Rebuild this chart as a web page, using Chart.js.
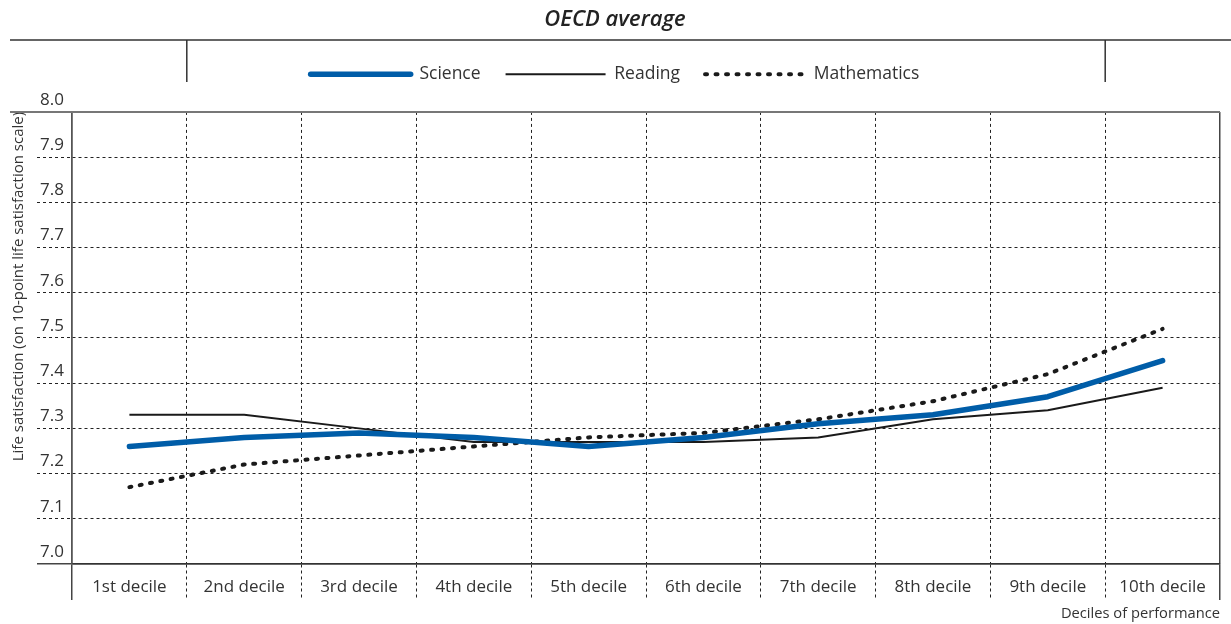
<!DOCTYPE html>
<html>
<head>
<meta charset="utf-8">
<title>OECD average</title>
<script src="https://cdn.jsdelivr.net/npm/chart.js@4.4.1/dist/chart.umd.min.js"></script>
<style>
  html, body { margin: 0; padding: 0; background: #fff; }
</style>
</head>
<body>
<canvas id="graficoDecili" width="1231" height="624"></canvas>
<script>
// dati (scala 0-10 della soddisfazione)
const decili = ['1st decile', '2nd decile', '3rd decile', '4th decile', '5th decile',
  '6th decile', '7th decile', '8th decile', '9th decile', '10th decile'];
const scienze = [7.26, 7.28, 7.29, 7.28, 7.26, 7.28, 7.31, 7.33, 7.37, 7.45];
const lettura = [7.33, 7.33, 7.30, 7.27, 7.27, 7.27, 7.28, 7.32, 7.34, 7.39];
const matematica = [7.17, 7.22, 7.24, 7.26, 7.28, 7.29, 7.32, 7.36, 7.42, 7.52];
const yMin = 7.0;
const yMax = 8.0;
const yStep = 0.1;

const testo = '#333';
const blu = '#005DA8';
const nero = '#1a1a1a';

Chart.defaults.font.family = "'Open Sans', sans-serif";
Chart.defaults.color = testo;

const isBordoY = (ctx) => ctx.tick && (Math.abs(ctx.tick.value - yMin) < 1e-6 || Math.abs(ctx.tick.value - yMax) < 1e-6);
const isBordoX = (ctx) => ctx.index === undefined || ctx.index === 0;

// linee della cornice: riga sotto il titolo, box della legenda, bordo superiore
const cornice = {
  id: 'cornice',
  afterDraw(chart) {
    const { ctx, chartArea, scales } = chart;
    const x = scales.x;
    const sx = chart.options.layout.padding.left;
    const yTitolo = Math.round(chart.titleBlock.bottom);
    const b1 = (x.getPixelForTick(0) + x.getPixelForTick(1)) / 2;
    const b9 = (x.getPixelForTick(8) + x.getPixelForTick(9)) / 2;
    ctx.save();
    ctx.strokeStyle = '#333';
    ctx.lineWidth = 1.5;
    ctx.beginPath();
    ctx.moveTo(sx, yTitolo);
    ctx.lineTo(chart.width, yTitolo);
    ctx.moveTo(b1, yTitolo);
    ctx.lineTo(b1, yTitolo + 42);
    ctx.moveTo(b9, yTitolo);
    ctx.lineTo(b9, yTitolo + 42);
    ctx.stroke();
    ctx.strokeStyle = '#777';
    ctx.lineWidth = 2;
    ctx.beginPath();
    ctx.moveTo(sx, chartArea.top);
    ctx.lineTo(chartArea.right, chartArea.top);
    ctx.stroke();
    ctx.restore();
  }
};

// la legenda con pointStyle perde il tratteggio: lo rimetto dal dataset
function etichetteLegenda(chart) {
  const items = Chart.defaults.plugins.legend.labels.generateLabels(chart);
  items.forEach((item) => {
    const ds = chart.data.datasets[item.datasetIndex];
    item.lineDash = ds.borderDash || [];
    item.lineCap = ds.borderCapStyle || 'butt';
    item.lineWidth = ds.borderWidth;
    item.strokeStyle = ds.borderColor;
  });
  return items;
}

const grafico = new Chart(document.getElementById('graficoDecili'), {
  type: 'line',
  data: {
    labels: decili,
    datasets: [{
      label: 'Science',
      data: scienze,
      xAxisID: 'x',
      borderColor: blu,
      backgroundColor: blu,
      borderWidth: 5.5,
      borderCapStyle: 'round',
      borderJoinStyle: 'round',
      pointRadius: 0,
      tension: 0
    }, {
      label: 'Reading',
      data: lettura,
      xAxisID: 'x',
      borderColor: nero,
      backgroundColor: nero,
      borderWidth: 2,
      pointRadius: 0,
      tension: 0
    }, {
      label: 'Mathematics',
      data: matematica,
      xAxisID: 'x',
      borderColor: nero,
      backgroundColor: nero,
      borderWidth: 4,
      borderDash: [2, 8.5],
      borderCapStyle: 'round',
      pointRadius: 0,
      tension: 0
    }]
  },
  options: {
    responsive: false,
    animation: false,
    layout: { padding: { left: 10, right: 11, top: 0, bottom: 0 } },
    plugins: {
      tooltip: { enabled: false },
      title: {
        display: true,
        text: 'OECD average',
        color: '#222',
        font: { size: 22, style: 'italic', weight: '600' },
        padding: { top: 7, bottom: 7 }
      },
      legend: {
        position: 'top',
        labels: {
          usePointStyle: true,
          pointStyle: 'line',
          pointStyleWidth: 100,
          boxHeight: 17,
          padding: 25,
          color: testo,
          font: { size: 17.5 },
          generateLabels: etichetteLegenda
        }
      }
    },
    scales: {
      x: {
        type: 'category',
        offset: true,
        grid: {
          offset: true,
          color: (ctx) => isBordoX(ctx) ? '#444' : '#222',
          lineWidth: (ctx) => isBordoX(ctx) ? 1.5 : 1,
          tickLength: 36,
          tickBorderDash: (ctx) => isBordoX(ctx) ? [] : [3, 3]
        },
        border: {
          display: true,
          color: '#333',
          width: 1.5,
          dash: (ctx) => isBordoX(ctx) ? [] : [3, 3]
        },
        ticks: {
          color: testo,
          font: { size: 17 },
          padding: -23,
          maxRotation: 0,
          autoSkip: false
        },
        title: {
          display: true,
          text: 'Deciles of performance',
          align: 'end',
          color: testo,
          font: { size: 14.7 },
          padding: { top: 0, bottom: 1 }
        },
        afterFit(scala) { scala.height = 60; }
      },
      xSpazio: {
        type: 'category',
        position: 'top',
        grid: { display: false },
        border: { display: false },
        ticks: { display: false },
        afterFit(scala) { scala.height = 19; }
      },
      y: {
        min: yMin,
        max: yMax,
        ticks: {
          stepSize: yStep,
          callback: (v) => v.toFixed(1),
          color: testo,
          font: { size: 17 },
          padding: -27,
          labelOffset: -12
        },
        grid: {
          color: (ctx) => isBordoY(ctx) ? '#444' : '#222',
          lineWidth: (ctx) => isBordoY(ctx) ? 1.5 : 1,
          tickLength: 35,
          tickBorderDash: (ctx) => isBordoY(ctx) ? [] : [3, 3]
        },
        border: {
          display: true,
          color: '#555',
          width: 1.5,
          dash: (ctx) => isBordoY(ctx) ? [] : [3, 3]
        },
        title: {
          display: true,
          text: 'Life satisfaction (on 10-point life satisfaction scale)',
          align: 'end',
          color: testo,
          font: { size: 15 },
          padding: { top: 0, bottom: 0 }
        },
        afterFit(scala) { scala.width = 62; }
      }
    }
  },
  plugins: [cornice]
});
</script>
</body>
</html>
